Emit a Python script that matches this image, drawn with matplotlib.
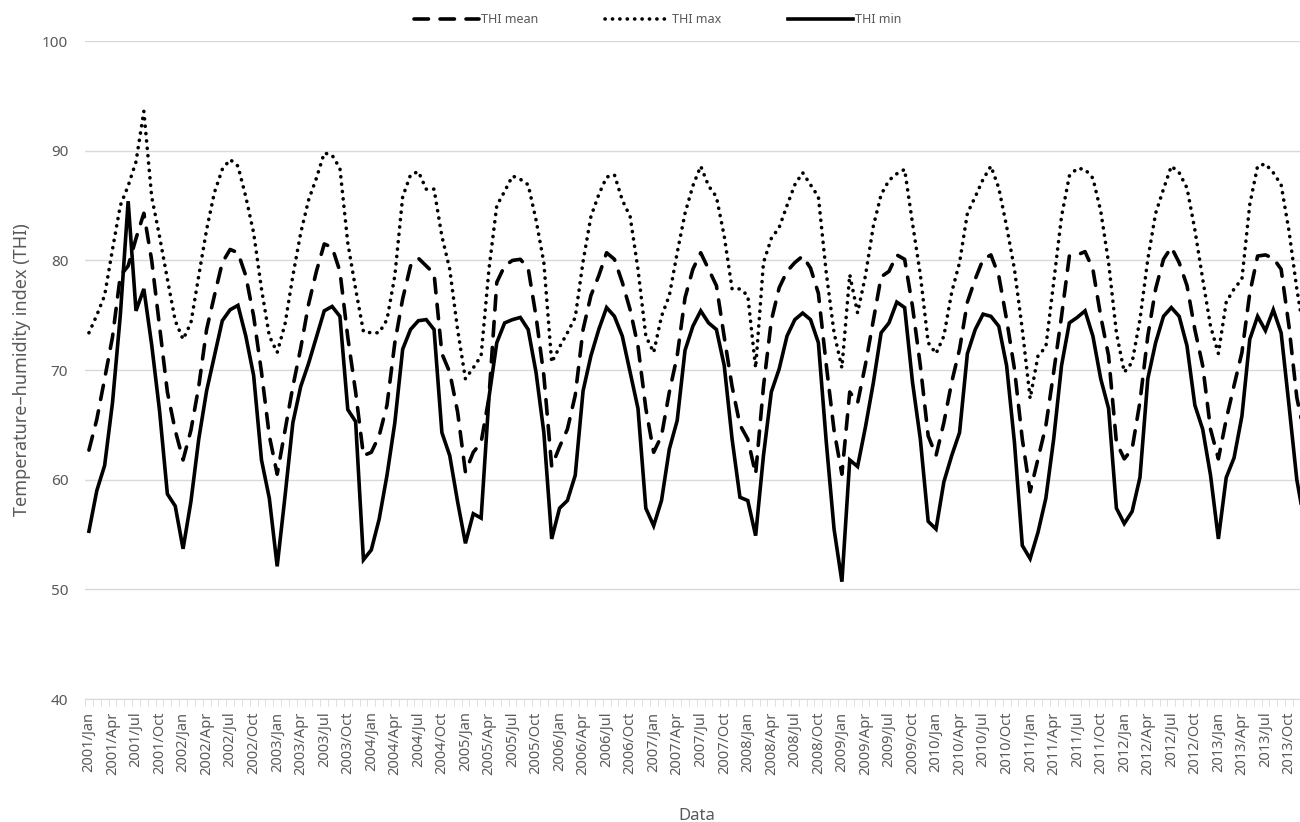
import numpy as np
import matplotlib
matplotlib.use("Agg")
import matplotlib.pyplot as plt
from matplotlib.ticker import FixedLocator

# monthly categories 2001/Jan .. 2013/Dec
month_names = ["Jan", "Feb", "Mar", "Apr", "May", "Jun",
               "Jul", "Aug", "Sep", "Oct", "Nov", "Dec"]
years = list(range(2001, 2014))
months = [f"{y}/{m}" for y in years for m in month_names]

# THI min (one row per year)
thi_min = [
    55.3, 59.0, 61.3, 67.0, 75.0, 85.4, 75.4, 77.4, 72.3, 66.3, 58.7, 57.6,
    53.7, 58.0, 63.7, 68.1, 71.3, 74.5, 75.5, 75.9, 73.1, 69.5, 61.8, 58.3,
    52.1, 58.5, 65.2, 68.5, 70.6, 73.0, 75.4, 75.8, 74.9, 66.4, 65.3, 52.7,
    53.6, 56.4, 60.4, 65.2, 71.9, 73.7, 74.5, 74.6, 73.7, 64.3, 62.2, 58.0,
    54.2, 56.9, 56.5, 67.5, 72.5, 74.3, 74.6, 74.8, 73.7, 69.8, 64.3, 54.6,
    57.4, 58.1, 60.4, 68.1, 71.3, 73.7, 75.7, 74.9, 73.1, 69.8, 66.5, 57.4,
    55.8, 58.1, 62.8, 65.4, 71.8, 74.0, 75.4, 74.3, 73.7, 70.4, 63.7, 58.4,
    58.1, 54.9, 62.2, 68.0, 70.1, 73.1, 74.6, 75.2, 74.6, 72.5, 63.5, 55.5,
    50.7, 61.8, 61.2, 64.8, 68.8, 73.4, 74.3, 76.2, 75.7, 68.9, 63.7, 56.2,
    55.5, 59.8, 62.2, 64.3, 71.5, 73.7, 75.1, 74.9, 74.0, 70.4, 63.4, 54.0,
    52.8, 55.2, 58.3, 63.7, 70.4, 74.3, 74.8, 75.4, 73.1, 69.2, 66.5, 57.4,
    56.0, 57.1, 60.2, 69.2, 72.5, 74.9, 75.7, 74.9, 72.2, 66.8, 64.6, 60.4,
    54.6, 60.2, 62.0, 65.8, 72.8, 74.9, 73.6, 75.5, 73.4, 66.8, 60.0, 56.0,
]

# THI mean
thi_mean = [
    62.7, 65.5, 69.2, 73.0, 78.6, 79.5, 82.0, 84.3, 80.0, 74.0, 68.0, 64.5,
    61.8, 64.5, 68.5, 73.7, 76.8, 79.8, 81.0, 80.7, 78.6, 74.9, 69.8, 64.0,
    60.5, 64.5, 68.5, 72.0, 76.0, 79.0, 81.5, 81.2, 79.0, 73.0, 68.0, 62.2,
    62.5, 64.0, 66.8, 72.5, 76.5, 79.5, 80.2, 79.5, 78.8, 71.5, 69.8, 66.2,
    60.7, 62.5, 63.4, 67.5, 78.0, 79.5, 80.0, 80.1, 79.3, 74.9, 69.5, 61.2,
    63.0, 64.6, 67.7, 73.7, 76.8, 78.6, 80.7, 80.1, 78.0, 75.5, 72.2, 66.5,
    62.5, 64.0, 68.0, 71.3, 76.6, 79.2, 80.7, 79.2, 77.7, 73.0, 68.5, 65.0,
    63.7, 60.5, 68.5, 74.5, 77.5, 79.0, 79.8, 80.4, 79.3, 77.0, 70.5, 64.5,
    60.5, 68.0, 67.0, 70.5, 74.5, 78.5, 79.0, 80.5, 80.1, 75.8, 70.4, 64.0,
    62.2, 65.2, 68.9, 71.9, 76.2, 78.3, 80.1, 80.5, 78.6, 74.6, 70.1, 63.7,
    58.9, 61.9, 64.9, 69.8, 74.9, 80.4, 80.5, 80.8, 79.2, 74.9, 71.3, 63.4,
    61.9, 62.8, 67.1, 73.1, 77.4, 80.1, 81.2, 79.8, 77.7, 73.7, 70.4, 64.6,
    61.9, 65.5, 68.6, 71.6, 77.0, 80.4, 80.5, 80.2, 79.2, 74.0, 67.5, 64.0,
]

# THI max
thi_max = [
    73.4, 75.0, 76.8, 81.0, 85.0, 86.8, 89.0, 93.6, 85.8, 82.2, 78.3, 74.5,
    72.8, 74.3, 78.6, 82.8, 86.2, 88.3, 89.2, 88.6, 85.8, 82.5, 77.4, 73.1,
    71.6, 74.2, 78.6, 82.5, 85.5, 87.5, 89.8, 89.6, 88.4, 81.6, 77.4, 73.5,
    73.4, 73.4, 74.6, 78.6, 85.8, 87.8, 88.1, 86.5, 86.5, 82.2, 79.2, 73.7,
    69.2, 70.2, 71.3, 79.2, 85.0, 86.3, 87.7, 87.4, 86.9, 83.7, 79.8, 70.7,
    72.1, 73.4, 74.8, 79.9, 84.0, 86.0, 87.6, 87.8, 85.5, 84.0, 79.2, 73.1,
    71.6, 74.9, 76.8, 80.7, 84.3, 86.8, 88.6, 86.8, 85.8, 82.2, 77.4, 77.4,
    76.8, 70.2, 79.8, 82.0, 83.0, 85.0, 86.9, 88.0, 86.9, 85.8, 78.9, 73.4,
    70.2, 78.7, 75.2, 78.6, 83.1, 86.0, 87.3, 87.9, 88.3, 83.4, 78.7, 72.5,
    71.5, 73.1, 77.1, 79.8, 84.3, 85.8, 87.4, 88.6, 86.6, 83.1, 79.2, 73.7,
    67.4, 71.3, 72.1, 78.0, 84.0, 87.7, 88.4, 88.3, 87.5, 84.5, 79.8, 73.4,
    69.8, 70.7, 74.6, 80.1, 84.3, 86.5, 88.6, 88.0, 86.6, 82.8, 78.3, 74.0,
    71.5, 76.2, 77.4, 78.3, 85.1, 88.6, 88.8, 88.0, 86.9, 82.7, 77.4, 73.0,
]

plt.rcParams['font.family'] = ['Noto Sans', 'DejaVu Sans']
grey = "#595959"

fig = plt.figure(figsize=(13, 8.22), dpi=100)
ax = fig.add_axes([0.0654, 0.1496, 0.9412, 0.8004])

x = np.arange(len(months))
lw = 2.6
ax.plot(x, thi_mean, color="black", lw=lw, linestyle=(0, (4, 3.2)),
        dash_capstyle="round", label="THI mean", zorder=3)
ax.plot(x, thi_max, color="black", lw=lw, linestyle=(0, (0.05, 2.0)),
        dash_capstyle="round", label="THI max", zorder=3)
ax.plot(x, thi_min, color="black", lw=lw, solid_joinstyle="miter",
        label="THI min", zorder=3)

ax.set_ylim(40, 100)
ax.set_xlim(-0.5, len(months) - 0.5)
ax.set_yticks(range(40, 101, 10))
ax.yaxis.grid(True, color="#d9d9d9", lw=1)
ax.set_axisbelow(True)
for s in ["top", "right", "left"]:
    ax.spines[s].set_visible(False)
ax.spines["bottom"].set_color("#d9d9d9")
ax.tick_params(axis="y", length=0, labelsize=11, labelcolor=grey, pad=12)

ax.set_xticks(x[::3])
ax.set_xticklabels(months[::3], rotation=90, fontsize=10.5, color=grey)
ax.xaxis.set_minor_locator(FixedLocator(np.arange(-0.5, len(months), 1)))
ax.tick_params(axis="x", which="major", length=0, pad=9)
ax.tick_params(axis="x", which="minor", length=5, color="#d9d9d9")

ax.set_ylabel("Temperature\u2013humidity index (THI)", fontsize=13,
              color=grey, labelpad=8)
ax.set_xlabel("Data", fontsize=12, color=grey, labelpad=24)

leg = ax.legend(loc="lower center", bbox_to_anchor=(0.468, 1.006), ncol=3,
                frameon=False, fontsize=9, handlelength=5.2,
                columnspacing=5.4, handletextpad=0.1)
for t in leg.get_texts():
    t.set_color(grey)

fig.savefig("out.png", dpi=100, facecolor="white")
